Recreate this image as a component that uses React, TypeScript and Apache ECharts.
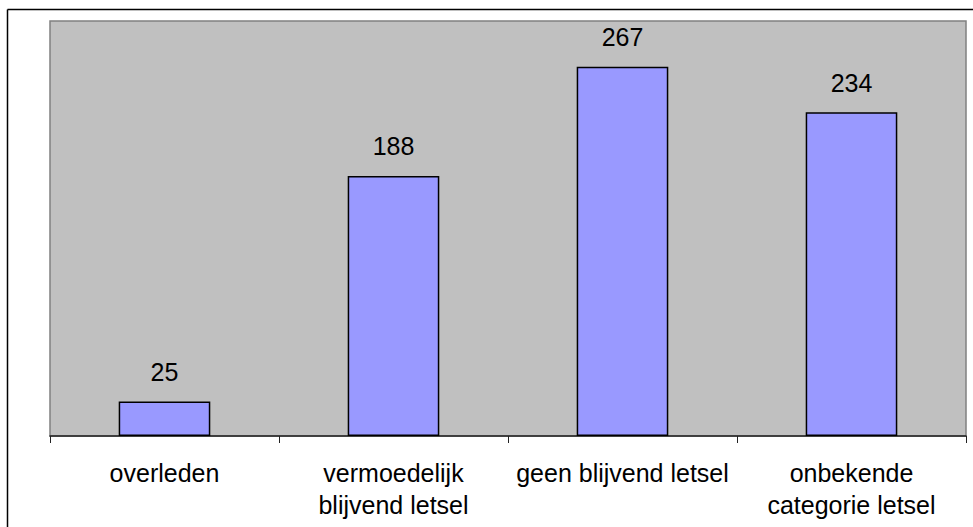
import React, { useEffect, useRef } from "react";
import * as echarts from "echarts";

const categories = [
  "overleden",
  "vermoedelijk\nblijvend letsel",
  "geen blijvend letsel",
  "onbekende\ncategorie letsel",
];
const values = [25, 188, 267, 234];

export default function App() {
  const ref = useRef<HTMLDivElement>(null);
  useEffect(() => {
    if (!ref.current) return;
    const chart = echarts.init(ref.current, null, { renderer: "svg" });
    chart.setOption({
      animation: false,
      backgroundColor: "#ffffff",
      textStyle: { fontFamily: "Liberation Sans, Arial, sans-serif" },
      grid: {
        left: 50,
        top: 21,
        right: 7,
        bottom: 91,
        show: true,
        backgroundColor: "#c0c0c0",
        borderColor: "#808080",
        borderWidth: 1.5,
      },
      xAxis: {
        type: "category",
        data: categories,
        axisLine: { show: true, lineStyle: { color: "#222", width: 1.5 } },
        axisTick: { show: true, length: 7, lineStyle: { color: "#222", width: 1 } },
        axisLabel: {
          color: "#000",
          fontSize: 25,
          lineHeight: 32,
          margin: 21,
          fontFamily: "Liberation Sans, Arial, sans-serif",
          interval: 0,
        },
      },
      yAxis: {
        type: "value",
        min: 0,
        max: 300,
        show: false,
        splitLine: { show: false },
      },
      series: [
        {
          type: "bar",
          data: values,
          barWidth: "40%",
          itemStyle: { color: "#9999ff", borderColor: "#000", borderWidth: 1.5 },
          label: {
            show: true,
            position: "top",
            distance: 17,
            color: "#000",
            fontSize: 25,
            fontFamily: "Liberation Sans, Arial, sans-serif",
          },
        },
      ],
      graphic: [
        {
          type: "line",
          shape: { x1: 7.5, y1: 9.5, x2: 980, y2: 9.5 },
          style: { stroke: "#000", lineWidth: 1.5 },
          z: 100,
        },
        {
          type: "line",
          shape: { x1: 7.5, y1: 9.5, x2: 7.5, y2: 540 },
          style: { stroke: "#000", lineWidth: 1.5 },
          z: 100,
        },
      ],
    });
    return () => chart.dispose();
  }, []);
  return (
    <div
      ref={ref}
      style={{ position: "fixed", left: 0, top: 0, width: 973, height: 527 }}
    />
  );
}
